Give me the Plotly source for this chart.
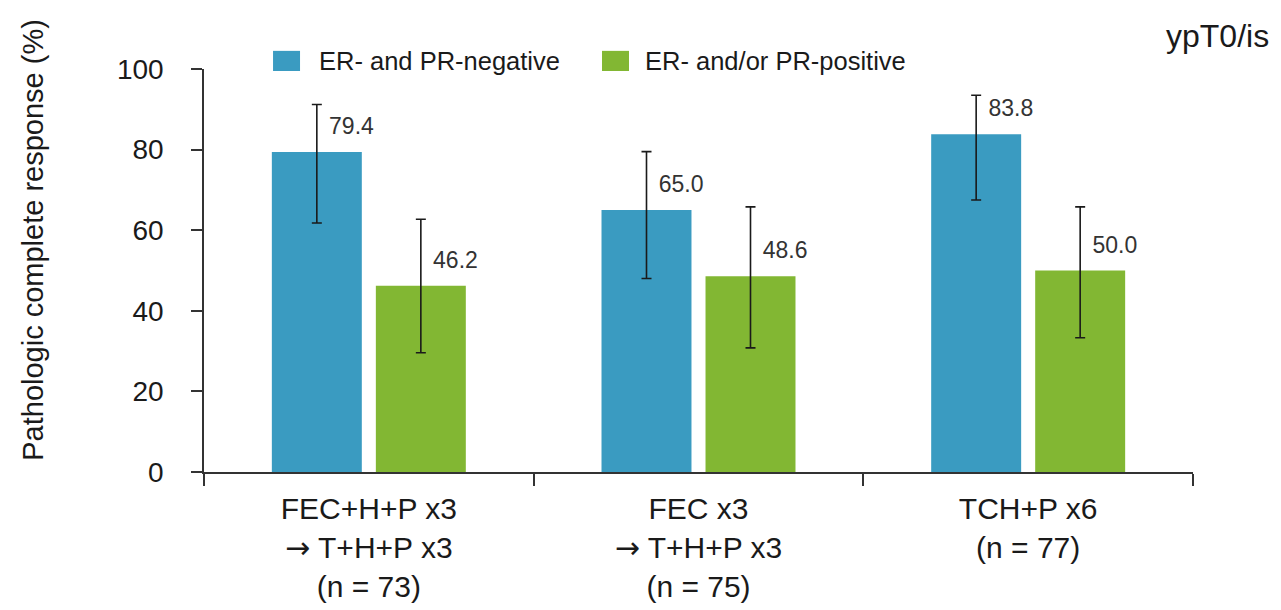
import plotly.graph_objects as go

ARROW = "<span style='font-family:DejaVu Sans'>\u2192</span>"
categories = [
    f"FEC+H+P x3<br>{ARROW} T+H+P x3<br>(n = 73)",
    f"FEC x3<br>{ARROW} T+H+P x3<br>(n = 75)",
    "TCH+P x6<br>(n = 77)",
]
series_names = ["ER- and PR-negative", "ER- and/or PR-positive"]
neg_values = [79.4, 65.0, 83.8]
neg_upper = [91.2, 79.5, 93.5]
neg_lower = [61.8, 48.0, 67.5]
pos_values = [46.2, 48.6, 50.0]
pos_upper = [62.7, 65.8, 65.8]
pos_lower = [29.6, 30.8, 33.3]
y_ticks = [0, 20, 40, 60, 80, 100]

BLUE = "#3A9BC1"
GREEN = "#82B733"
FONT = "Liberation Sans, Arial, sans-serif"
TXT = "#1a1a1a"

fig = go.Figure()
for name, vals, up, lo, col in [
    (series_names[0], neg_values, neg_upper, neg_lower, BLUE),
    (series_names[1], pos_values, pos_upper, pos_lower, GREEN),
]:
    fig.add_trace(go.Bar(
        x=categories, y=vals, name=name, marker=dict(color=col, line=dict(width=0)),
        error_y=dict(type="data", symmetric=False,
                     array=[u - v for u, v in zip(up, vals)],
                     arrayminus=[v - l for v, l in zip(vals, lo)],
                     color="#1a1a1a", thickness=1.6, width=5),
        showlegend=False,
    ))
for vals in [neg_values, pos_values]:
    fig.add_trace(go.Scatter(
        x=categories, y=vals, mode="markers+text",
        marker=dict(size=18, opacity=0),
        text=[f"{v:.1f}" for v in vals], textposition="top right",
        textfont=dict(family=FONT, size=23, color="#333333"),
        showlegend=False, hoverinfo="skip",
    ))

# custom legend
legend_items = [
    (series_names[0], BLUE, 0.0698, 0.0971, 0.1143),
    (series_names[1], GREEN, 0.4024, 0.4297, 0.4439),
]
for name, col, x0, x1, xt in legend_items:
    fig.add_shape(type="rect", xref="paper", yref="paper", x0=x0, x1=x1,
                  y0=0.995, y1=1.045, fillcolor=col, line=dict(width=0))
    fig.add_annotation(xref="paper", yref="paper", x=xt, y=1.020, text=name,
                       showarrow=False, xanchor="left", yanchor="middle",
                       font=dict(family=FONT, size=25.5, color=TXT))

fig.add_annotation(xref="paper", yref="paper", x=1.025, y=1.082, text="ypT0/is",
                   showarrow=False, xanchor="center", yanchor="middle",
                   font=dict(family=FONT, size=32, color=TXT))
fig.add_annotation(xref="paper", yref="paper", x=-0.173, y=0.576,
                   text="Pathologic complete response (%)", textangle=-90,
                   showarrow=False, xanchor="center", yanchor="middle",
                   font=dict(family=FONT, size=29, color=TXT))

fig.update_layout(
    width=1281, height=610,
    margin=dict(l=204, r=88, t=69, b=138, autoexpand=False),
    barmode="group", bargap=0.369, bargroupgap=0.135,
    scattermode="group", scattergap=0.369,
    plot_bgcolor="white", paper_bgcolor="white",
    font=dict(family=FONT, color=TXT),
    xaxis=dict(showline=True, linecolor="#333333", linewidth=1.5,
               ticks="outside", tickson="boundaries", ticklen=12,
               tickcolor="#333333", tickwidth=1.5, ticklabelstandoff=9,
               tickfont=dict(family=FONT, size=30, color=TXT),
               showgrid=False, automargin=False),
    yaxis=dict(range=[0, 100], tickvals=y_ticks, showline=True,
               linecolor="#333333", linewidth=1.5, ticks="outside", ticklen=11,
               tickcolor="#333333", tickwidth=1.5, ticklabelstandoff=22,
               tickfont=dict(family=FONT, size=28, color=TXT),
               showgrid=False, zeroline=False, automargin=False),
)

fig.write_html("out.html")
